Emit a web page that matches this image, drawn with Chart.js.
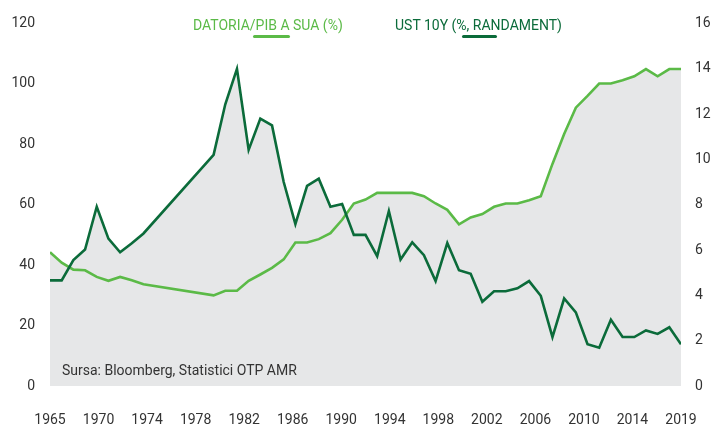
<!DOCTYPE html>
<html>
<head>
<meta charset="utf-8">
<script src="https://cdn.jsdelivr.net/npm/chart.js@4.4.0/dist/chart.umd.min.js"></script>
<style>
  html, body { margin: 0; padding: 0; background: #fff; overflow: hidden; }
  #wrap { position: relative; width: 711px; height: 429px; font-family: Roboto, sans-serif; overflow: hidden; }
  #myChart { display: block; }
  .leg { position: absolute; top: 16px; font-size: 14px; line-height: 18px; white-space: nowrap; }
  .leg span.mark { position: absolute; top: 19px; height: 3px; border-radius: 2px; }
  #source { position: absolute; left: 62px; top: 362px; font-size: 14px; color: #333; }
</style>
</head>
<body>
<div id="wrap">
  <canvas id="myChart" width="711" height="429"></canvas>
  <div class="leg" id="leg1" style="left:193px;color:#5BBA47">DATORIA/PIB A SUA (%)<span class="mark" style="left:60px;width:37px;background:#5BBA47"></span></div>
  <div class="leg" id="leg2" style="left:395px;color:#0B6B3A">UST 10Y (%, RANDAMENT)<span class="mark" style="left:67px;width:35px;background:#0B6B3A"></span></div>
  <div id="source">Sursa: Bloomberg, Statistici OTP AMR</div>
</div>
<script>
const years = [
  1965, 1966, 1967, 1968, 1969, 1970, 1971, 1972, 1973, 1974,
  1975, 1976, 1977, 1978, 1979, 1980, 1981, 1982, 1983, 1984,
  1985, 1986, 1987, 1988, 1989, 1990, 1991, 1992, 1993, 1994,
  1995, 1996, 1997, 1998, 1999, 2000, 2001, 2002, 2003, 2004,
  2005, 2006, 2007, 2008, 2009, 2010, 2011, 2012, 2013, 2014,
  2015, 2016, 2017, 2018, 2019,
];

// datoria / PIB (axa stanga)
const debtToGdp = [
  44.3, 40.8, 38.5, 38.3, 36.1, 34.8, 36.1, 35.0, 33.7, null,
  null, null, null, null, 30.0, 31.5, 31.5, 34.8, 36.9, 39.1,
  41.9, 47.5, 47.5, 48.6, 50.6, 55.0, 60.4, 61.7, 63.9, 63.9,
  63.9, 63.9, 62.8, 60.4, 58.3, 53.5, 55.8, 56.9, 59.3, 60.4,
  60.4, 61.5, 62.8, 73.5, 83.4, 92.1, 96.0, 100.1, 100.1, 101.2,
  102.5, 104.9, 102.5, 104.9, 104.9,
];

// randament UST 10Y (axa dreapta)
const ust10y = [
  4.66, 4.66, 5.56, 6.02, 7.91, 6.5, 5.9, 6.3, 6.73, null,
  null, null, null, null, 10.2, 12.43, 13.99, 10.42, 11.8, 11.5,
  9.0, 7.14, 8.83, 9.15, 7.91, 8.03, 6.67, 6.67, 5.73, 7.72,
  5.58, 6.34, 5.77, 4.63, 6.31, 5.11, 4.95, 3.72, 4.18, 4.18,
  4.31, 4.63, 3.98, 2.16, 3.86, 3.25, 1.84, 1.69, 2.92, 2.16,
  2.16, 2.45, 2.3, 2.59, 1.84,
];

const xTickLabels = ["1965", "1970", "1974", "1978", "1982", "1986", "1990",
  "1994", "1998", "2002", "2006", "2010", "2014", "2019"];
const leftTicks = [0, 20, 40, 60, 80, 100, 120];
const rightTicks = [0, 2, 4, 6, 8, 10, 12, 14, 16];

const LIGHT = "#5BBA47";
const DARK = "#0B6B3A";
const FILL = "#E6E7E8";
const TEXT = "#333333";

const toPoints = (vals) => years.map((y, i) => ({ x: y, y: vals[i] }));

const tickFont = { family: "Roboto", size: 14 };
const noGrid = { display: false, drawTicks: false, tickLength: 0 };

const config = {
  type: "line",
  data: {
    datasets: [
      {
        label: "UST 10Y (%, RANDAMENT)",
        data: toPoints(ust10y),
        yAxisID: "y2",
        borderColor: DARK,
        backgroundColor: FILL,
        borderWidth: 2.6,
        fill: "origin",
        pointRadius: 0,
        tension: 0,
        spanGaps: true,
      },
      {
        label: "DATORIA/PIB A SUA (%)",
        data: toPoints(debtToGdp),
        yAxisID: "y",
        borderColor: LIGHT,
        backgroundColor: FILL,
        borderWidth: 2.6,
        fill: "origin",
        pointRadius: 0,
        tension: 0,
        spanGaps: true,
      },
    ],
  },
  options: {
    responsive: false,
    animation: false,
    layout: { padding: { top: 20, left: 0, right: 0, bottom: 0 } },
    plugins: {
      legend: { display: false },
      tooltip: { enabled: false },
      filler: { drawTime: "beforeDatasetsDraw" },
    },
    scales: {
      x: {
        type: "linear",
        min: years[0],
        max: years[years.length - 1],
        grid: noGrid,
        border: { display: false },
        afterBuildTicks: (scale) => {
          const span = scale.max - scale.min;
          scale.ticks = xTickLabels.map((t, i) => ({
            value: scale.min + (i * span) / (xTickLabels.length - 1),
          }));
        },
        afterFit: (scale) => {
          scale.height = 43;
          scale.paddingLeft = 0;
          scale.paddingRight = 0;
        },
        ticks: {
          autoSkip: false,
          maxRotation: 0,
          padding: 26,
          color: TEXT,
          font: tickFont,
          callback: (value, index) => xTickLabels[index],
        },
      },
      y: {
        position: "left",
        min: 0,
        max: 120,
        grid: noGrid,
        border: { display: false },
        afterBuildTicks: (scale) => {
          scale.ticks = leftTicks.map((v) => ({ value: v }));
        },
        afterFit: (scale) => {
          scale.width = 50;
        },
        ticks: { padding: 15, color: TEXT, font: tickFont },
      },
      y2: {
        position: "right",
        min: 0,
        max: 16,
        grid: noGrid,
        border: { display: false },
        afterBuildTicks: (scale) => {
          scale.ticks = rightTicks.map((v) => ({ value: v }));
        },
        afterFit: (scale) => {
          scale.width = 30;
        },
        ticks: { padding: 14, color: TEXT, font: tickFont },
      },
    },
  },
};

new Chart(document.getElementById("myChart").getContext("2d"), config);
</script>
</body>
</html>
